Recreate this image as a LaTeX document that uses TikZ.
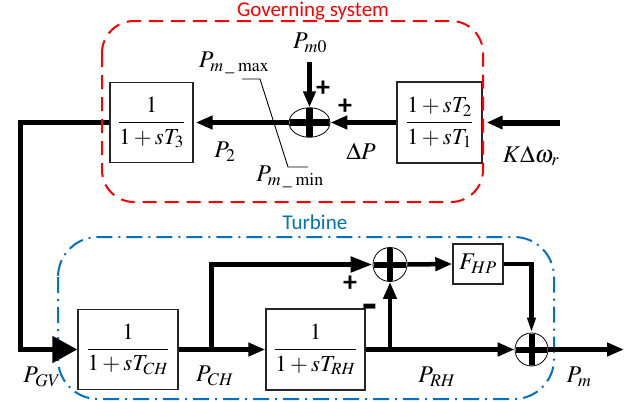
\documentclass[tikz,border=0pt]{standalone}
\usepackage{amsmath}
\usepackage{mathptmx}
\usepackage{fontspec}
\setmainfont{Liberation Serif}
\newfontfamily\calfont{Carlito}
\usepackage{graphicx}
\usetikzlibrary{arrows.meta,shapes.geometric}
\definecolor{govred}{RGB}{255,0,0}
\definecolor{turbblue}{RGB}{0,112,192}
\newcommand\mycross[4]{%
  \begin{scope}
    \clip (#1.center) ellipse [x radius=#2, y radius=#3];
    \draw[line width=#4] ([xshift=-#2]#1.center) -- ([xshift=#2]#1.center);
    \draw[line width=#4] ([yshift=-#3]#1.center) -- ([yshift=#3]#1.center);
  \end{scope}}
\begin{document}
\begin{tikzpicture}[x=1pt,y=-1pt,
  every node/.style={font=\fontsize{24}{28}\selectfont, inner sep=0pt},
  blk/.style={draw=black!85, line width=1.4pt, font=\fontsize{23}{27}\selectfont},
  sig/.style={line width=5pt},
  tip/.style={-{Triangle[length=17pt,width=13pt]}},
  sumel/.style={draw, line width=0.8pt, ellipse, minimum width=41pt, minimum height=29.5pt},
  sumc/.style={draw, line width=0.8pt, circle},
  sgn/.style={font=\calfont\bfseries\fontsize{28}{30}\selectfont},
  grptitle/.style={font=\calfont\fontsize{21}{25}\selectfont}]
\useasboundingbox (0,0) rectangle (638,402);

% turbine group (behind)
\draw[turbblue, line width=2pt, dash pattern=on 16pt off 6pt on 2pt off 6pt, rounded corners=40pt] (58,237) rectangle (554,399);

% blocks
\node[blk, minimum width=83pt, minimum height=80pt] (T3) at (151.5,122.5) {$\dfrac{1}{1+sT_3}$};
\node[blk, minimum width=85pt, minimum height=81pt] (T21) at (439.5,122.5) {$\dfrac{1+sT_2}{1+sT_1}$};
\node[blk, minimum width=100pt, minimum height=80pt] (TCH) at (128,349.5) {$\dfrac{1}{1+sT_{CH}}$};
\node[blk, minimum width=99pt, minimum height=81pt] (TRH) at (315.5,349.5) {$\dfrac{1}{1+sT_{RH}}$};
\node[blk, minimum width=50pt, minimum height=40pt, font=\fontsize{24}{28}\selectfont] (FHP) at (478,264) {$F_{HP}$};

% summing junctions
\node[sumel] (S0) at (309.5,122.5) {};
\node[sumc, minimum size=34pt] (S1) at (390,264.5) {};
\node[sumc, minimum size=33pt] (S2) at (531.5,349.5) {};
\mycross{S0}{20pt}{14.5pt}{7pt}
\mycross{S1}{16.5pt}{16.5pt}{6pt}
\mycross{S2}{16pt}{16pt}{6pt}

% governing connectors
\coordinate (kin) at (560,122.5);
\draw[line width=6pt, -{Triangle[length=16pt,width=13pt]}, shorten >=4pt] (kin) -- (T21.east);
\draw[sig, tip] (T21.west) -- (S0.east);
\draw[sig, tip, shorten >=2pt] (S0.west) -- (T3.east);
\coordinate (pm0in) at (309.5,62);
\draw[line width=4.5pt, -{Triangle[length=16pt,width=12pt]}] (pm0in) -- (S0.north);
\coordinate (fbk) at (20,122.5);
\draw[sig, -{Triangle[length=25pt,width=26pt]}] (T3.west) -- (fbk) |- (TCH.west);

% limiter
\coordinate (l1) at (242,79);
\coordinate (l2) at (260,79);
\coordinate (l3) at (288,167);
\coordinate (l4) at (308,167);
\draw[line width=0.9pt] (l1) -- (l2) -- (l3) -- (l4);

% turbine connectors
\draw[line width=5.5pt, tip] (TCH.east) -- (TRH.west);
\coordinate (br1) at (211,349.5);
\draw[line width=5pt, -{Triangle[length=22pt,width=15pt]}] (br1) |- (S1.west);
\draw[line width=5.5pt, tip] (TRH.east) -- (S2.west);
\coordinate (br2) at (390,349.5);
\draw[line width=4.5pt, tip] (br2) -- (S1.south);
\draw[line width=4.5pt, tip] (S1.east) -- (FHP.west);
\draw[line width=4.5pt, -{Triangle[length=15pt,width=8pt]}] (FHP.east) -| (S2.north);
\coordinate (pout) at (624,349.5);
\draw[line width=5.5pt, tip] (S2.east) -- (pout);

% labels
\node (Pm0) at (310,43) {$P_{m0}$};
\node (Pmax) at (234,63) {$P_{m\,\text{\_}\,\max}$};
\node (Pmin) at (290,177) {$P_{m\,\text{\_}\,\min}$};
\node (P2) at (225,152) {$P_2$};
\node (dP) at (361,151) {$\Delta P$};
\node (Kw) at (531,156) {$K\Delta\omega_r$};
\node (PGV) at (42,377) {$P_{GV}$};
\node (PCH) at (215,376) {$P_{CH}$};
\node (PRH) at (437,377) {$P_{RH}$};
\node (Pm) at (579,377) {$P_m$};

% signs
\node[sgn] (pl1) at (323,89) {+};
\node[sgn] (pl2) at (345,107) {+};
\node[sgn] (pl3) at (350,284) {+};
\node[sgn] (mi1) at (370,313) {\scalebox{1.2}[2]{–}};

% governing group (on top)
\draw[govred, line width=2pt, dash pattern=on 14pt off 8pt, rounded corners=32pt] (102,21) rectangle (483,202);

% titles
\node[grptitle, text=govred] (govt) at (313,11) {Governing system};
\node[grptitle, text=turbblue] (turbt) at (315,222) {Turbine};
\end{tikzpicture}
\end{document}
